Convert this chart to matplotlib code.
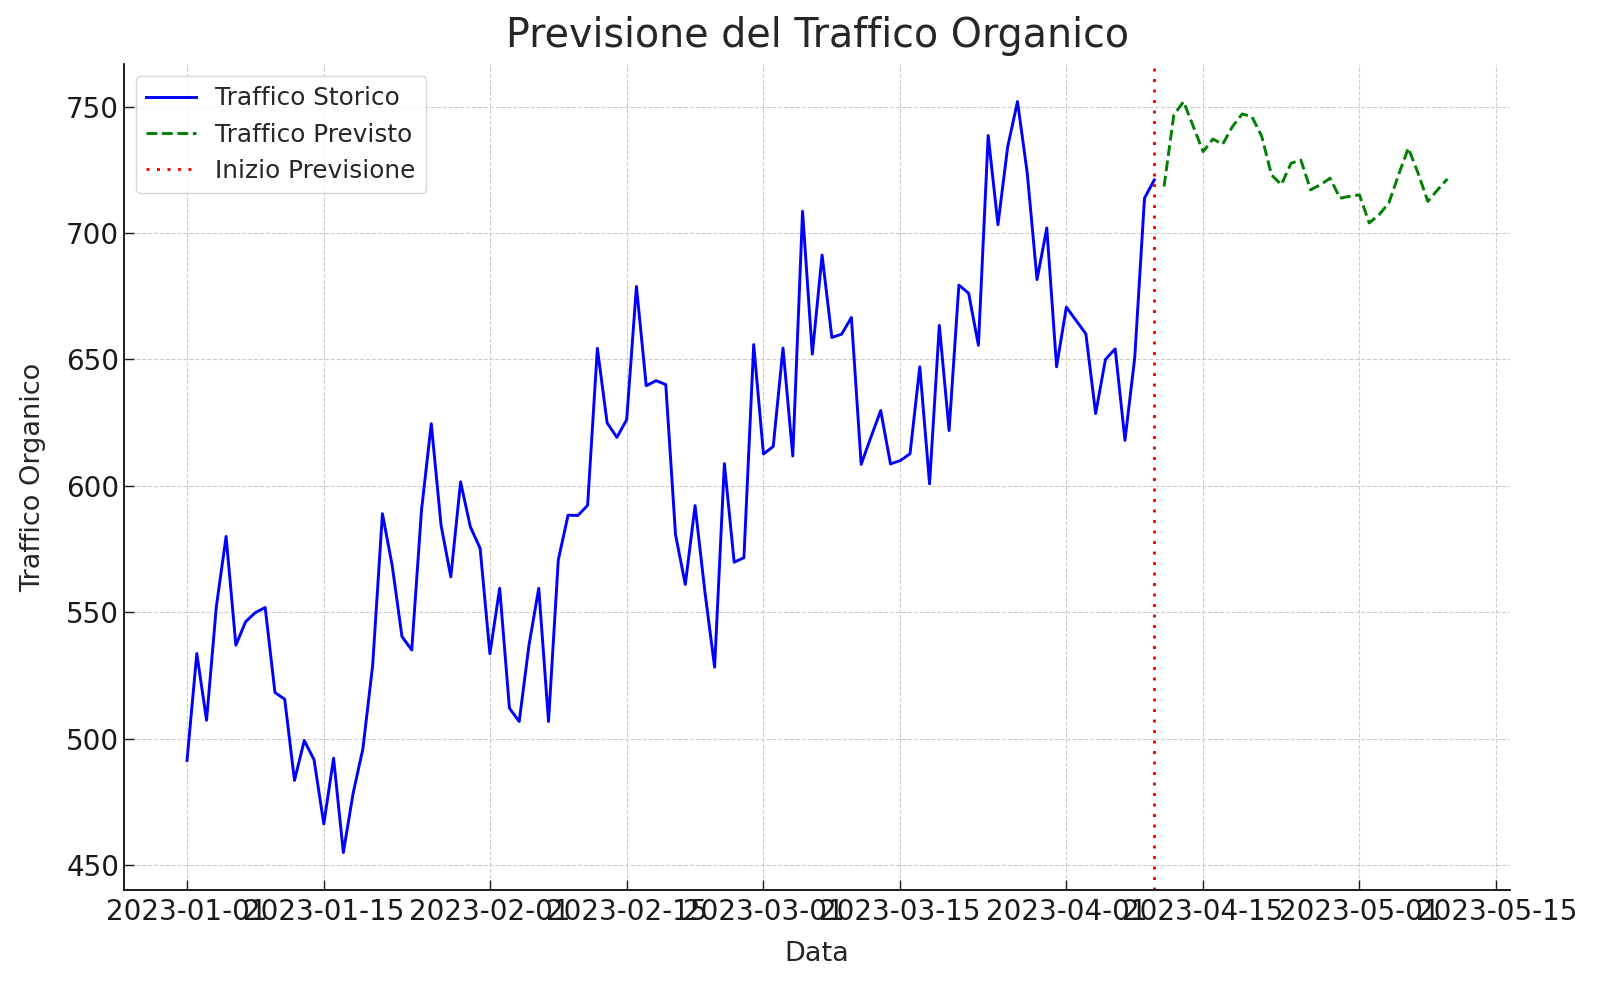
import numpy as np
import pandas as pd
import matplotlib
matplotlib.use("Agg")
import matplotlib.pyplot as plt
import matplotlib.dates as mdates
from matplotlib.ticker import MultipleLocator

# dati
storico_date = pd.date_range("2023-01-01", periods=100, freq="D")
storico = [
    491.4, 533.7, 507.3, 552.2, 580.0, 537.0, 546.3, 549.9, 551.9, 518.3,
    515.6, 483.5, 499.3, 491.7, 466.3, 492.3, 455.0, 478.4, 496.0, 529.0,
    589.0, 568.5, 540.4, 535.1, 590.4, 624.6, 584.5, 564.0, 601.6, 583.8,
    575.3, 533.6, 559.5, 512.1, 506.8, 537.0, 559.5, 506.8, 570.7, 588.4,
    588.3, 592.3, 654.4, 624.9, 619.2, 626.2, 678.9, 639.6, 641.6, 640.1,
    580.7, 561.0, 592.2, 558.3, 528.3, 608.8, 569.8, 571.6, 655.9, 612.6,
    615.6, 654.5, 611.8, 708.6, 652.1, 691.3, 658.7, 660.0, 666.6, 608.5,
    619.3, 629.8, 608.7, 610.0, 612.7, 647.1, 600.8, 663.5, 621.9, 679.4,
    676.2, 655.6, 738.6, 703.3, 734.2, 752.0, 723.7, 681.6, 702.0, 647.1,
    670.7, 665.4, 660.1, 628.6, 650.0, 654.2, 618.0, 650.7, 713.8, 721.0,
]
previsto_date = pd.date_range("2023-04-11", periods=30, freq="D")
previsto = [
    718.4, 746.7, 752.0, 742.1, 732.2, 737.2, 735.1, 742.1, 747.1, 746.0,
    738.2, 723.0, 719.1, 727.6, 728.9, 717.1, 719.1, 721.7, 713.8, 714.5,
    715.1, 704.0, 707.2, 711.8, 723.0, 733.6, 723.7, 712.5, 717.1, 721.4,
]
inizio_previsione = pd.Timestamp("2023-04-10")

fig = plt.figure(figsize=(16, 9.85), dpi=100)
ax = fig.add_axes([0.0775, 0.0964, 0.8665, 0.8386])

ax.plot(storico_date, storico, color="blue", lw=2.1, label="Traffico Storico")
ax.plot(previsto_date, previsto, color="green", lw=2.1, ls="--", label="Traffico Previsto")
ax.axvline(inizio_previsione, color="red", lw=2.1, ls=(0, (1, 2.6)), label="Inizio Previsione")

ax.set_title("Previsione del Traffico Organico", fontsize=28.5, color="#262626", pad=12)
ax.set_xlabel("Data", fontsize=19.5, color="#262626", labelpad=11)
ax.set_ylabel("Traffico Organico", fontsize=19.5, color="#262626", labelpad=14)

ax.xaxis.set_major_locator(mdates.DayLocator(bymonthday=[1, 15]))
ax.xaxis.set_major_formatter(mdates.DateFormatter("%Y-%m-%d"))
ax.yaxis.set_major_locator(MultipleLocator(50))
ax.tick_params(axis="both", direction="in", length=7, width=1, labelsize=20, colors="#1a1a1a")
ax.tick_params(axis="x", pad=5.5)

ax.grid(True, ls="--", lw=0.8, color="#cccccc")
ax.spines["top"].set_visible(False)
ax.spines["right"].set_visible(False)
for s in ["left", "bottom"]:
    ax.spines[s].set_linewidth(1.25)

leg = ax.legend(loc="upper left", fontsize=17.8)
for t in leg.get_texts():
    t.set_color("#262626")

fig.savefig("out.png", dpi=100)
